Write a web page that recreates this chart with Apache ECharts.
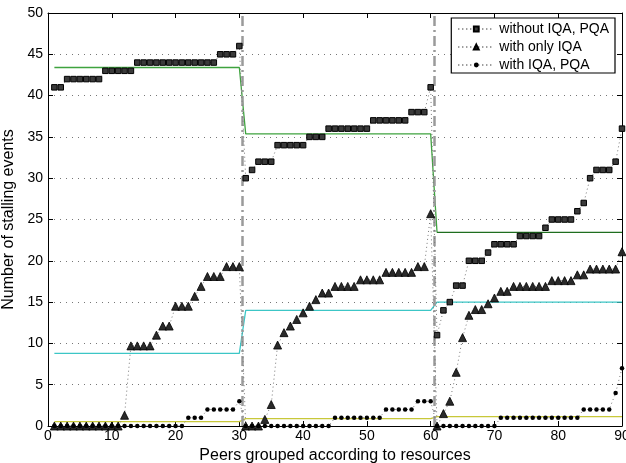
<!DOCTYPE html>
<html>
<head>
<meta charset="utf-8">
<script src="https://cdn.jsdelivr.net/npm/echarts@6/dist/echarts.min.js"></script>
<style>
html,body{margin:0;padding:0;background:#fff;}
#c{width:626px;height:463px;}
</style>
</head>
<body>
<div id="c"></div>
<script>
// x positions 1..90 (peers)
var peerIds = [1,2,3,4,5,6,7,8,9,10,11,12,13,14,15,16,17,18,19,20,21,22,23,24,25,26,27,28,29,30,
  31,32,33,34,35,36,37,38,39,40,41,42,43,44,45,46,47,48,49,50,51,52,53,54,55,56,57,58,59,60,
  61,62,63,64,65,66,67,68,69,70,71,72,73,74,75,76,77,78,79,80,81,82,83,84,85,86,87,88,89,90];

var withoutIqaPqa = [41,41,42,42,42,42,42,42,43,43,43,43,43,44,44,44,44,44,44,44,44,44,44,44,44,44,45,45,45,46,
  30,31,32,32,32,34,34,34,34,34,35,35,35,36,36,36,36,36,36,36,37,37,37,37,37,37,38,38,38,41,
  11,14,15,17,17,20,20,20,21,22,22,22,22,23,23,23,23,24,25,25,25,25,26,27,30,31,31,31,32,36];

var withOnlyIqa = [0,0,0,0,0,0,0,0,0,0,0,1.3,9.7,9.7,9.7,9.7,11.0,12.1,12.1,14.5,14.5,14.5,15.7,16.9,18.1,18.1,18.1,19.3,19.3,19.3,
  0,0,0,0.8,2.6,9.8,11.3,12.1,12.9,13.7,14.5,15.3,16.1,16.1,16.9,16.9,16.9,16.9,17.7,17.7,17.7,17.7,18.6,18.6,18.6,18.6,18.6,19.3,19.3,25.7,
  0,1.5,3.0,6.5,10.7,13.4,14.1,14.1,14.8,15.5,16.3,16.3,16.9,16.9,16.9,16.9,16.9,16.9,17.6,17.6,17.6,17.6,18.3,18.3,19.0,19.0,19.0,19.0,19.0,21.1];

var withIqaPqa = [0,0,0,0,0,0,0,0,0,0,0,0,0,0,0,0,0,0,0,0,0,1,1,1,2,2,2,2,2,3,
  0,0,0,0,0,0,0,0,0,0,0,0,0,0,1,1,1,1,1,1,1,1,2,2,2,2,2,3,3,3,
  0,0,0,0,0,0,0,0,0,0,1,1,1,1,1,1,1,1,1,1,1,1,1,2,2,2,2,2,4,7];

// group averages
var groupStart = [1, 31, 61];
var groupEnd = [30, 60, 90];
var meanWithout = [43.4, 35.37, 23.43];
var meanOnlyIqa = [8.8, 14.0, 15.0];
var meanIqaPqa = [0.53, 0.9, 1.13];
var groupSeparators = [30.5, 60.5];

function pts(arr){ return peerIds.map(function(x,i){ return [x, arr[i]]; }); }
function meanPath(m, from, to){
  var out = [];
  for (var g = from; g <= to; g++){
    out.push([groupStart[g], m[g]]);
    out.push([groupEnd[g], m[g]]);
  }
  return out;
}

var font = '"Liberation Sans", Arial, Helvetica, sans-serif';
var chart = echarts.init(document.getElementById('c'), null, {renderer:'canvas'});

var dotted = {type:[1,3], color:'#777', width:1};

var option = {
  animation:false,
  backgroundColor:'#fff',
  grid:{left:48, right:4, top:13, bottom:37, containLabel:false, outerBoundsMode:'none'},
  xAxis:[{
    type:'value', min:0, max:90, interval:10,
    axisLine:{show:true, onZero:false, lineStyle:{color:'#000', width:1}},
    axisTick:{show:true, inside:true, length:5, lineStyle:{color:'#000'}},
    axisLabel:{color:'#000', fontFamily:font, fontSize:14, margin:3},
    splitLine:{show:false},
    name:'Peers grouped according to resources', nameLocation:'middle', nameGap:19,
    nameTextStyle:{color:'#000', fontFamily:font, fontSize:16, verticalAlign:'top'}
  },{
    type:'value', position:'top', min:0, max:90, interval:10,
    axisLine:{show:true, onZero:false, lineStyle:{color:'#000', width:1}},
    axisTick:{show:true, inside:true, length:5, lineStyle:{color:'#000'}},
    axisLabel:{show:false}, splitLine:{show:false}
  }],
  yAxis:[{
    type:'value', min:0, max:50, interval:5,
    axisLine:{show:true, onZero:false, lineStyle:{color:'#000', width:1}},
    axisTick:{show:true, inside:true, length:5, lineStyle:{color:'#000'}},
    axisLabel:{color:'#000', fontFamily:font, fontSize:14, margin:5},
    splitLine:{show:true, lineStyle:{type:[1,5], color:'#777', width:1}},
    name:'Number of stalling events', nameLocation:'middle', nameGap:25,
    nameTextStyle:{color:'#000', fontFamily:font, fontSize:16}
  },{
    type:'value', position:'right', min:0, max:50, interval:5,
    axisLine:{show:true, onZero:false, lineStyle:{color:'#000', width:1}},
    axisTick:{show:true, inside:true, length:5, lineStyle:{color:'#000'}},
    axisLabel:{show:false}, splitLine:{show:false}
  }],
  legend:{
    orient:'vertical', right:11, top:18,
    backgroundColor:'#fff', borderColor:'#000', borderWidth:1.2,
    padding:[4,6,1,6], itemGap:4, itemWidth:36, itemHeight:6,
    textStyle:{color:'#000', fontFamily:font, fontSize:14, padding:[0,0,0,0]},
    data:['without IQA, PQA','with only IQA','with IQA, PQA']
  },
  series:[
    {
      name:'sep', type:'line', data:[], silent:true,
      markLine:{
        symbol:'none', silent:true, label:{show:false},
        lineStyle:{color:'#9a9a9a', width:2.5, type:[10,4,2,4]},
        data: groupSeparators.map(function(v){ return {xAxis:v}; })
      }
    },
    {
      name:'meanWithoutA', type:'line', data:meanPath(meanWithout,0,1).concat([[groupStart[2], meanWithout[2]]]),
      symbol:'none', lineStyle:{color:'#3fa33f', width:1.3}, z:3, silent:true
    },
    {
      name:'meanWithoutB', type:'line', data:[[groupStart[2], meanWithout[2]],[groupEnd[2], meanWithout[2]]],
      symbol:'none', lineStyle:{color:'#1f6e1f', width:1.2}, z:3, silent:true
    },
    {
      name:'meanOnlyIqa', type:'line', data:meanPath(meanOnlyIqa,0,2),
      symbol:'none', lineStyle:{color:'#3cc6c6', width:1.3}, z:3, silent:true
    },
    {
      name:'meanIqaPqa', type:'line', data:meanPath(meanIqaPqa,0,2),
      symbol:'none', lineStyle:{color:'#c8c83a', width:1.3}, z:3, silent:true
    },
    {
      name:'without IQA, PQA', type:'line', data:pts(withoutIqaPqa),
      symbol:'rect', symbolSize:5.5,
      itemStyle:{color:'#3a3a3a', borderColor:'#000', borderWidth:1},
      lineStyle:dotted, z:5
    },
    {
      name:'with only IQA', type:'line', data:pts(withOnlyIqa),
      symbol:'triangle', symbolSize:8,
      itemStyle:{color:'#2a2a2a', borderColor:'#000', borderWidth:0.8},
      lineStyle:dotted, z:5
    },
    {
      name:'with IQA, PQA', type:'line', data:pts(withIqaPqa),
      symbol:'circle', symbolSize:4.5,
      itemStyle:{color:'#000', borderWidth:0},
      lineStyle:dotted, z:6
    }
  ]
};
chart.setOption(option);
</script>
</body>
</html>
